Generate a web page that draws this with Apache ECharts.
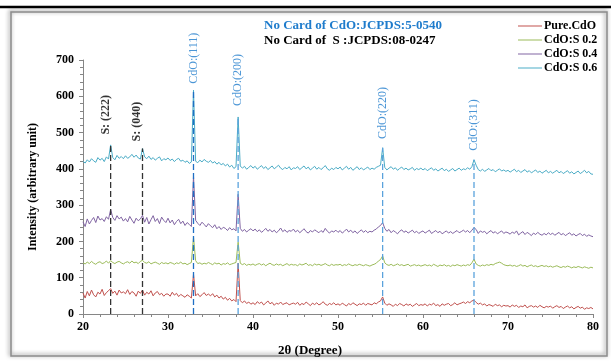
<!DOCTYPE html>
<html>
<head>
<meta charset="utf-8">
<script src="https://cdn.jsdelivr.net/npm/echarts@6/dist/echarts.min.js"></script>
<style>
  html, body { margin: 0; padding: 0; background: #fff; }
  #chart { width: 611px; height: 362px; }
</style>
</head>
<body>
<div id="chart"></div>
<script>
// 2θ sampling grid (degrees)
const theta = [
  20, 20.25, 20.5, 20.75, 21, 21.25, 21.5, 21.75, 22, 22.25, 22.5, 22.75, 23, 23.25, 23.5, 23.75, 24, 24.25, 24.5, 24.75,
  25, 25.25, 25.5, 25.75, 26, 26.25, 26.5, 26.75, 27, 27.25, 27.5, 27.75, 28, 28.25, 28.5, 28.75, 29, 29.25, 29.5, 29.75,
  30, 30.25, 30.5, 30.75, 31, 31.25, 31.5, 31.75, 32, 32.25, 32.5, 32.75, 33, 33.25, 33.5, 33.75, 34, 34.25, 34.5, 34.75,
  35, 35.25, 35.5, 35.75, 36, 36.25, 36.5, 36.75, 37, 37.25, 37.5, 37.75, 38, 38.25, 38.5, 38.75, 39, 39.25, 39.5, 39.75,
  40, 40.25, 40.5, 40.75, 41, 41.25, 41.5, 41.75, 42, 42.25, 42.5, 42.75, 43, 43.25, 43.5, 43.75, 44, 44.25, 44.5, 44.75,
  45, 45.25, 45.5, 45.75, 46, 46.25, 46.5, 46.75, 47, 47.25, 47.5, 47.75, 48, 48.25, 48.5, 48.75, 49, 49.25, 49.5, 49.75,
  50, 50.25, 50.5, 50.75, 51, 51.25, 51.5, 51.75, 52, 52.25, 52.5, 52.75, 53, 53.25, 53.5, 53.75, 54, 54.25, 54.5, 54.75,
  55, 55.25, 55.5, 55.75, 56, 56.25, 56.5, 56.75, 57, 57.25, 57.5, 57.75, 58, 58.25, 58.5, 58.75, 59, 59.25, 59.5, 59.75,
  60, 60.25, 60.5, 60.75, 61, 61.25, 61.5, 61.75, 62, 62.25, 62.5, 62.75, 63, 63.25, 63.5, 63.75, 64, 64.25, 64.5, 64.75,
  65, 65.25, 65.5, 65.75, 66, 66.25, 66.5, 66.75, 67, 67.25, 67.5, 67.75, 68, 68.25, 68.5, 68.75, 69, 69.25, 69.5, 69.75,
  70, 70.25, 70.5, 70.75, 71, 71.25, 71.5, 71.75, 72, 72.25, 72.5, 72.75, 73, 73.25, 73.5, 73.75, 74, 74.25, 74.5, 74.75,
  75, 75.25, 75.5, 75.75, 76, 76.25, 76.5, 76.75, 77, 77.25, 77.5, 77.75, 78, 78.25, 78.5, 78.75, 79, 79.25, 79.5, 79.75,
  80
]

const pureCdO = [
  58, 44, 62, 50, 66, 53, 47, 60, 55, 68, 51, 59, 64, 70, 57, 63, 52, 66, 58, 61,
  56, 67, 54, 62, 58, 49, 63, 57, 66, 52, 60, 55, 64, 50, 58, 62, 53, 57, 49, 55,
  55, 49, 60, 52, 57, 48, 54, 50, 46, 53, 49, 44, 110, 50, 56, 48, 53, 59, 51, 55,
  50, 56, 47, 52, 44, 49, 41, 46, 38, 43, 36, 40, 34, 140, 37, 31, 36, 29, 33, 27,
  31, 26, 34, 29, 33, 25, 30, 36, 28, 32, 24, 30, 27, 33, 26, 29, 31, 25, 28, 30,
  27, 32, 24, 29, 26, 33, 28, 23, 30, 26, 31, 25, 28, 34, 27, 24, 29, 26, 31, 25,
  28, 24, 30, 26, 22, 29, 25, 31, 27, 23, 28, 26, 30, 24, 29, 27, 25, 31, 28, 33,
  36, 47, 30, 24, 28, 25, 21, 27, 23, 29, 26, 22, 28, 24, 27, 21, 25, 29, 23, 26,
  24, 28, 22, 27, 25, 30, 23, 26, 21, 28, 24, 27, 29, 23, 26, 31, 25, 28, 30, 33,
  29, 34, 31, 36, 38, 32, 27, 30, 25, 28, 22, 26, 24, 21, 27, 23, 25, 20, 24, 22,
  23, 19, 25, 21, 24, 18, 22, 20, 25, 17, 21, 23, 19, 22, 18, 24, 20, 17, 21, 19,
  22, 16, 20, 23, 18, 21, 15, 19, 22, 17, 20, 14, 18, 21, 16, 19, 13, 17, 15, 18,
  14
]

const cdoS02 = [
  141, 138, 143, 139, 145, 140, 137, 142, 144, 139, 141, 146, 140, 147, 142, 139, 143, 145, 141, 138,
  142, 144, 140, 146, 141, 143, 139, 145, 148, 142, 140, 144, 138, 141, 143, 140, 137, 142, 139, 141,
  138, 142, 140, 137, 141, 139, 143, 138, 140, 136, 139, 142, 212, 147, 139, 141, 137, 140, 138, 142,
  139, 136, 141, 138, 140, 135, 139, 137, 141, 136, 138, 140, 142, 198, 140, 136, 139, 134, 137, 135,
  138, 134, 137, 139, 135, 138, 133, 137, 140, 136, 134, 138, 135, 137, 133, 136, 139, 134, 137, 135,
  136, 133, 138, 135, 137, 140, 134, 136, 133, 138, 135, 137, 134, 136, 139, 135, 133, 137, 134, 136,
  135, 137, 133, 136, 134, 138, 135, 133, 136, 134, 137, 135, 133, 136, 134, 132, 135, 137, 140, 146,
  150, 160, 141, 136, 134, 137, 133, 135, 138, 134, 136, 133, 135, 137, 132, 134, 136, 133, 135, 132,
  134, 136, 133, 135, 132, 137, 134, 131, 135, 133, 136, 132, 134, 131, 135, 133, 136, 134, 132, 135,
  133, 136, 134, 141, 151, 138, 134, 132, 135, 133, 136, 134, 137, 135, 139, 141, 143, 140, 136, 134,
  133, 135, 132, 134, 131, 133, 136, 132, 134, 130, 133, 135, 131, 133, 130, 132, 134, 131, 133, 130,
  132, 129, 131, 133, 130, 128, 131, 129, 132, 130, 127, 130, 128, 131, 129, 127, 130, 128, 126, 129,
  127
]

const cdoS04 = [
  254, 241, 262, 248, 258, 266, 252, 270, 259, 263, 255, 268, 261, 288, 266, 258, 271, 262, 267, 256,
  263, 254, 269, 259, 250, 264, 257, 262, 272, 253, 266, 248, 260, 271, 255, 263, 249, 267, 258, 252,
  264, 251, 259, 246, 255, 261, 249, 256, 244, 252, 247, 241, 380, 258, 250, 244, 253, 247, 240, 249,
  243, 238, 246, 235, 241, 233, 239, 236, 230, 238, 232, 235, 229, 330, 236, 228, 233, 226, 231, 235,
  229, 234, 227, 232, 225, 230, 236, 228, 233, 226, 231, 224, 229, 237, 227, 232, 225, 230, 228, 234,
  226, 231, 224, 229, 235, 227, 223, 230, 226, 232, 228, 224, 230, 225, 236, 228, 223, 229, 226, 231,
  225, 230, 223, 228, 234, 226, 231, 224, 229, 222, 227, 232, 225, 230, 224, 228, 226, 231, 234, 240,
  244, 252, 236, 228, 233, 224, 230, 226, 221, 228, 232, 225, 229, 223, 227, 231, 224, 228, 222, 226,
  229, 223, 227, 231, 222, 226, 230, 224, 228, 221, 225, 229, 223, 227, 222, 226, 230, 224, 227, 231,
  226, 230, 224, 231, 238, 233, 222, 229, 225, 228, 221, 226, 230, 223, 227, 221, 225, 229, 222, 226,
  224, 220, 226, 222, 229, 218, 223, 227, 219, 225, 221, 216, 223, 219, 225, 220, 217, 222, 218, 224,
  219, 223, 217, 221, 225, 218, 222, 216, 220, 224, 217, 221, 215, 219, 222, 216, 220, 214, 218, 215,
  213
]

const cdoS06 = [
  421, 416, 425, 419, 428, 422, 418, 431, 424, 429, 420, 433, 427, 466, 431, 425, 437, 429, 434, 428,
  436, 429, 433, 440, 432, 438, 430, 427, 456, 433, 428, 435, 426, 431, 424, 429, 433, 422, 428, 425,
  430, 423, 427, 420, 426, 429, 421, 424, 418, 422, 415, 419, 617, 421, 417, 424, 419, 426, 421, 418,
  423, 416, 420, 413, 418, 411, 415, 408, 413, 405, 410, 401, 406, 543, 408, 402, 407, 399, 404, 409,
  402, 407, 399, 404, 409, 401, 406, 398, 403, 408, 400, 405, 410, 402, 398, 404, 400, 406, 397, 403,
  401, 406, 398, 403, 408, 400, 405, 397, 402, 407, 399, 404, 398, 403, 409, 400, 396, 402, 398, 404,
  400, 405, 397, 402, 407, 399, 404, 396, 401, 406, 398, 403, 397, 401, 405, 398, 402, 399, 404, 407,
  410, 458, 404, 397, 402, 406, 399, 403, 396, 401, 405, 398, 402, 397, 400, 404, 396, 401, 398, 402,
  397, 401, 395, 399, 403, 396, 400, 394, 398, 402, 395, 399, 393, 397, 401, 394, 398, 402, 396, 400,
  398, 403, 399, 406, 425, 410, 398, 394, 399, 393, 397, 401, 395, 398, 392, 396, 400, 394, 397, 393,
  396, 391, 395, 399, 392, 396, 390, 394, 398, 391, 395, 389, 393, 397, 390, 394, 388, 392, 396, 389,
  393, 388, 392, 396, 389, 393, 387, 391, 395, 388, 392, 386, 390, 394, 387, 391, 396, 389, 393, 386,
  385
]

const seriesNames = ['Pure.CdO', 'CdO:S 0.2', 'CdO:S 0.4', 'CdO:S 0.6']
const seriesColors = ['#c0504d', '#9bbb59', '#8064a2', '#4bacc6']
const seriesValues = [pureCdO, cdoS02, cdoS04, cdoS06]

// reference peak markers (dashed drop lines)
const cdoPeaks = [33.0, 38.25, 55.25, 66.0]
const cdoTops = [617, 543, 458, 425]
const cdoColors = ['#1f6fc4', '#5aa2dc', '#5aa2dc', '#5aa2dc']
const cdoLabels = ['CdO:(111)', 'CdO:(200)', 'CdO:(220)', 'CdO:(311)']
const cdoLabelX = [33.0, 38.2, 55.3, 66.0]
const cdoLabelY = [705, 645, 554, 521]

const sPeaks = [23.25, 27.0]
const sTops = [466, 456]
const sLabels = ['S: (222)', 'S: (040)']
const sLabelX = [22.7, 26.4]
const sLabelY = [549, 530]

const serif = '"Liberation Serif", "DejaVu Serif", serif'

const chart = echarts.init(document.getElementById('chart'))

const curves = seriesNames.map((name, k) => ({
  name: name,
  type: 'line',
  data: theta.map((t, i) => [t, seriesValues[k][i]]),
  symbol: 'none',
  showSymbol: false,
  color: seriesColors[k],
  lineStyle: { width: 1, color: seriesColors[k] },
  z: 2,
  animation: false,
}))

const dropLine = (x, top, color) => ({
  type: 'line',
  data: [[x, 0], [x, top]],
  symbol: 'none',
  silent: true,
  lineStyle: { color: color, width: 1.3, type: [6, 3] },
  z: 4,
  animation: false,
})

const guides = [
  ...cdoPeaks.map((x, i) => dropLine(x, cdoTops[i], cdoColors[i])),
  ...sPeaks.map((x, i) => dropLine(x, sTops[i], '#333333')),
]

const labelSeries = (xs, ys, texts, color, weight) => ({
  type: 'scatter',
  data: xs.map((x, i) => [x, ys[i], texts[i]]),
  symbolSize: 0,
  clip: false,
  silent: true,
  z: 5,
  animation: false,
  label: {
    show: true,
    position: 'inside',
    rotate: 90,
    align: 'center',
    verticalAlign: 'middle',
    formatter: (p) => p.value[2],
    color: color,
    fontFamily: serif,
    fontSize: 12,
    fontWeight: weight,
  },
})

const option = {
  backgroundColor: '#fff',
  animation: false,
  title: {
    text: 'No Card of CdO:JCPDS:5-0540',
    subtext: 'No Card of  S :JCPDS:08-0247',
    left: 264,
    top: 19,
    itemGap: 2,
    padding: 0,
    textStyle: { color: '#1f7ccc', fontFamily: serif, fontSize: 13, fontWeight: 'bold' },
    subtextStyle: { color: '#000', fontFamily: serif, fontSize: 13, fontWeight: 'bold' },
  },
  legend: {
    data: seriesNames,
    orient: 'vertical',
    left: 518,
    top: 19,
    padding: 0,
    icon: 'rect',
    itemWidth: 24,
    itemHeight: 1,
    itemGap: 0,
    textStyle: { color: '#000', fontFamily: serif, fontSize: 12, fontWeight: 'bold', lineHeight: 14, padding: [0, 0, 0, -3] },
  },
  grid: { left: 83, right: 18, top: 60, bottom: 47 },
  xAxis: {
    type: 'value',
    min: 20,
    max: 80,
    interval: 10,
    name: '2θ (Degree)',
    nameLocation: 'middle',
    nameGap: 30,
    nameTextStyle: { color: '#000', fontFamily: serif, fontSize: 13, fontWeight: 'bold', padding: [0, 56, 0, 0] },
    axisLine: { lineStyle: { color: '#868686', width: 1 } },
    axisTick: { length: 4, lineStyle: { color: '#868686' } },
    minorTick: { show: true, splitNumber: 5, length: 3, lineStyle: { color: '#868686' } },
    splitLine: { show: false },
    axisLabel: { color: '#000', fontFamily: serif, fontSize: 12, fontWeight: 'bold', margin: 7 },
  },
  yAxis: {
    type: 'value',
    min: 0,
    max: 700,
    interval: 100,
    name: 'Intensity (arbitrary unit)',
    nameLocation: 'middle',
    nameGap: 44,
    nameTextStyle: { color: '#000', fontFamily: serif, fontSize: 12, fontWeight: 'bold' },
    axisLine: { show: true, lineStyle: { color: '#868686', width: 1 } },
    axisTick: { show: true, length: 4, lineStyle: { color: '#868686' } },
    minorTick: { show: true, splitNumber: 5, length: 3, lineStyle: { color: '#868686' } },
    splitLine: { show: false },
    axisLabel: { color: '#000', fontFamily: serif, fontSize: 12, fontWeight: 'bold', margin: 9 },
  },
  graphic: [
    {
      type: 'rect',
      shape: { x: 11, y: 12, width: 596, height: 344 },
      style: {
        fill: 'none',
        stroke: '#8c8c8c',
        lineWidth: 1.5,
        shadowColor: 'rgba(0,0,0,0.55)',
        shadowBlur: 4,
        shadowOffsetX: -1,
        shadowOffsetY: -1,
      },
      silent: true,
      z: -1,
    },
    {
      type: 'line',
      shape: { x1: 0, y1: 7, x2: 611, y2: 7 },
      style: { stroke: '#000', lineWidth: 2.5 },
      silent: true,
    },
  ],
  series: [
    ...curves,
    ...guides,
    labelSeries(cdoLabelX, cdoLabelY, cdoLabels, '#1f7ccc', 'normal'),
    labelSeries(sLabelX, sLabelY, sLabels, '#000', 'bold'),
  ],
}

chart.setOption(option)
</script>
</body>
</html>
